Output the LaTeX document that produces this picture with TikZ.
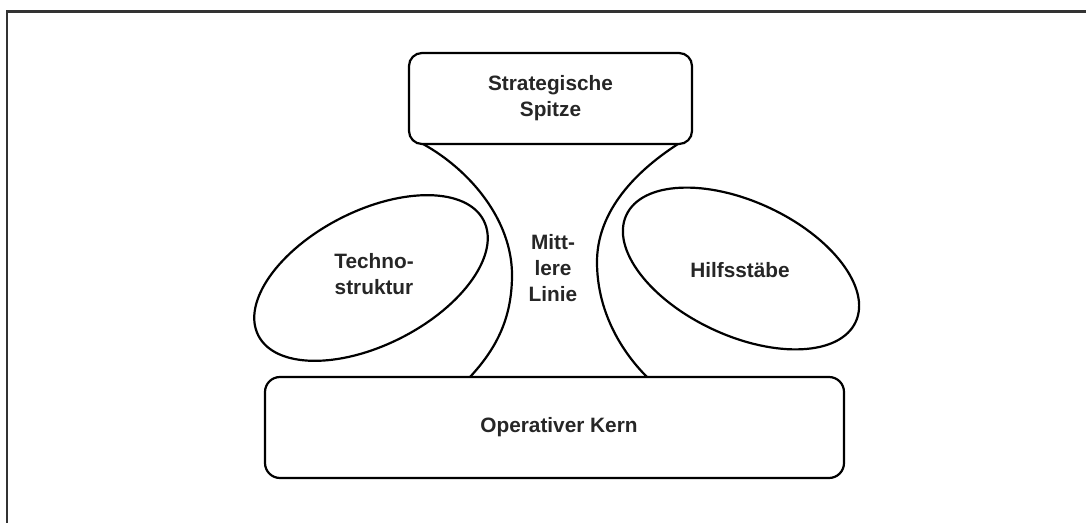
\documentclass[tikz,border=0pt]{standalone}
\usepackage{fontspec}
\setmainfont{Liberation Sans}
\usetikzlibrary{shapes.geometric}
\begin{document}
\begin{tikzpicture}[x=0.5pt,y=-0.5pt,
  lw/.style={line width=1.1pt},
  lab/.style={font=\fontsize{10.4}{13}\selectfont\bfseries, align=center, text=black!85},
  boxnode/.style={draw, lw, rounded corners=6.5pt, inner sep=0pt},
  ellnode/.style={draw, lw, ellipse, inner sep=0pt, minimum width=126.5pt, minimum height=67pt}]
\useasboundingbox (0,0) rectangle (1086,523);
% frame
\draw[line width=1.2pt, black!80] (7,523) -- (7,11.5) -- (1086,11.5);
% boxes
\node[boxnode, minimum width=141.5pt, minimum height=45.5pt] (sp) at (550.5,98.5) {};
\node[boxnode, rounded corners=7.5pt, minimum width=289.5pt, minimum height=50.5pt] (ok) at (554.5,427.5) {};
% ellipses
\node[ellnode, rotate=27] (te) at (371,278) {};
\node[ellnode, rotate=-25] (hi) at (741,268.5) {};
% middle line curves
\coordinate (l0) at (423,144);
\coordinate (l1) at (512,275);
\coordinate (l2) at (470,377);
\coordinate (r0) at (678,144);
\coordinate (r1) at (597,262);
\coordinate (r2) at (647,377);
\draw[lw] (l0) .. controls (470,170) and (512,220) .. (l1) .. controls (512,320) and (495,350) .. (l2);
\draw[lw] (r0) .. controls (630,175) and (597,215) .. (r1) .. controls (597,310) and (620,350) .. (r2);
% labels
\node[lab] (tsp) at (sp.center) {Strategische\\Spitze};
\node[lab] (tok) at (559,427) {Operativer Kern};
\node[lab] (tte) at (374,274) {Techno-\\struktur};
\node[lab] (thi) at (740,270) {Hilfsstäbe};
\node[lab] (tml) at (553,268) {Mitt-\\lere\\Linie};
\end{tikzpicture}
\end{document}
